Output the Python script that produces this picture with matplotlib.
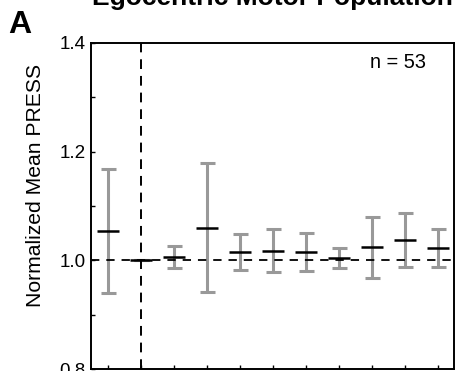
import matplotlib
matplotlib.use("Agg")
import matplotlib.pyplot as plt
from matplotlib.ticker import MultipleLocator, FixedLocator, NullFormatter

plt.rcParams['font.family'] = ['Liberation Sans', 'DejaVu Sans']
plt.rcParams['lines.scale_dashes'] = False

# data
positions = [1, 2, 3, 4, 5, 6, 7, 8, 9, 10, 11]
means = [1.054, 1.000, 1.006, 1.059, 1.015, 1.018, 1.016, 1.004, 1.024, 1.037, 1.022]
upper = [1.169, 1.000, 1.026, 1.179, 1.048, 1.058, 1.051, 1.023, 1.080, 1.087, 1.057]
lower = [0.939, 1.000, 0.985, 0.941, 0.982, 0.978, 0.980, 0.985, 0.968, 0.987, 0.987]
ytick_vals = [0.8, 1.0, 1.2, 1.4]
ytick_labels = ['0.8', '1.0', '1.2', '1.4']
title = 'Egocentric Motor Population'
ylabel = 'Normalized Mean PRESS'
n_text = 'n = 53'
panel = 'A'
ref_x = 2
ref_y = 1.0

W, H = 457, 371
fig = plt.figure(figsize=(W / 100, H / 100), dpi=100)
ax = fig.add_axes([91 / W, 2 / H, 363 / W, 326 / H])

yerr = [[m - l for m, l in zip(means, lower)], [u - m for m, u in zip(means, upper)]]
ax.errorbar(positions, means, yerr=yerr, fmt='none', ecolor='#999999',
            elinewidth=2.2, capsize=5.4, capthick=2.2, zorder=2)
ax.axhline(ref_y, color='black', lw=1.3, linestyle=(0, (6.0, 5.0)), zorder=3)
ax.axvline(ref_x, color='black', lw=1.4, linestyle=(0, (7.0, 5.0)), zorder=3)
ax.plot(positions, means, linestyle='none', marker='_', markersize=16,
        markeredgewidth=1.8, color='black', zorder=4)

ax.set_xlim(0.5, 11.5)
ax.set_ylim(0.8, 1.4)
ax.set_xticks(positions)
ax.set_xticklabels([])
ax.set_yticks(ytick_vals)
ax.set_yticklabels(ytick_labels)
ax.yaxis.set_minor_locator(MultipleLocator(0.1))
ax.yaxis.set_minor_formatter(NullFormatter())
ax.tick_params(axis='both', which='both', direction='in', length=3.2, width=1.0,
               labelsize=13.6, pad=4.0)
for s in ax.spines.values():
    s.set_linewidth(1.4)

fig.text(35.5 / W, 1 - 185.5 / H, ylabel, rotation=90, ha='center', va='center',
         fontsize=15.2)
fig.text(426 / W, 1 - 68 / H, n_text, ha='right', va='baseline', fontsize=14.4)
fig.text(8 / W, 1 - 33 / H, panel, ha='left', va='baseline', fontsize=23,
         fontweight='bold')
fig.text(272 / W, 1 - 5 / H, title, ha='center', va='baseline', fontsize=19,
         fontweight='bold')

fig.savefig('out.png', dpi=100)
